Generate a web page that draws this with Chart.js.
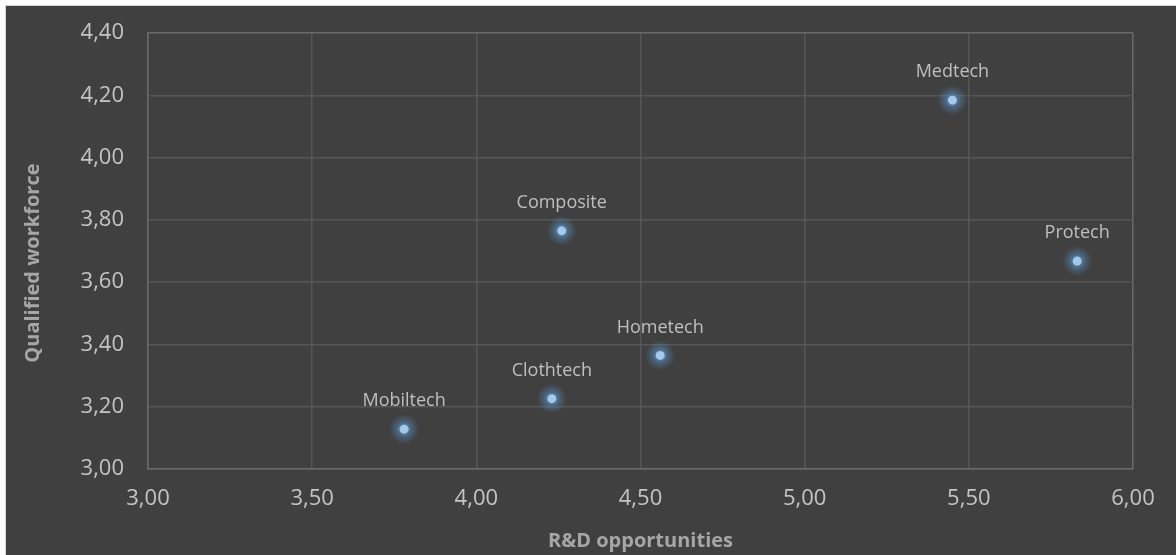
<!DOCTYPE html>
<html>
<head>
<meta charset="utf-8">
<script src="https://cdn.jsdelivr.net/npm/chart.js@4"></script>
<style>
  body { margin: 0; background: #ffffff; }
  #quadro {
    position: absolute; left: 5px; top: 5px;
    width: 1171px; height: 550px;
    background: #404040;
    border-left: 1px solid #d4d4d4; border-top: 1px solid #d4d4d4;
    overflow: hidden;
  }
  #grafico { display: block; margin-top: -10px; }
</style>
</head>
<body>
<div id="quadro"><canvas id="grafico" width="1170" height="559"></canvas></div>
<script>
// setores e notas (P&D x mão de obra qualificada)
const setores = ['Medtech', 'Composite', 'Protech', 'Hometech', 'Clothtech', 'Mobiltech'];
const notasPD = [5.45, 4.26, 5.83, 4.56, 4.23, 3.78];
const notasMaoDeObra = [4.185, 3.765, 3.668, 3.365, 3.226, 3.128];

const tituloX = 'R&D opportunities';
const tituloY = 'Qualified workforce';

let pontos = [];
for (let i = 0; i < setores.length; i++) {
    pontos[i] = { x: notasPD[i], y: notasMaoDeObra[i] };
}

function formataVirgula(v) {
    return Number(v).toFixed(2).replace('.', ',');
}

// brilho azul em volta dos pontos (gradiente radial por baixo de cada um)
const brilho = {
    id: 'brilho',
    beforeDatasetsDraw(chart) {
        const ctx = chart.ctx;
        const meta = chart.getDatasetMeta(0);
        ctx.save();
        meta.data.forEach(p => {
            const g = ctx.createRadialGradient(p.x, p.y, 2, p.x, p.y, 15);
            g.addColorStop(0, 'rgba(91,155,213,0.85)');
            g.addColorStop(0.45, 'rgba(91,155,213,0.35)');
            g.addColorStop(1, 'rgba(91,155,213,0)');
            ctx.fillStyle = g;
            ctx.beginPath();
            ctx.arc(p.x, p.y, 15, 0, Math.PI * 2);
            ctx.fill();
        });
        ctx.restore();
    }
};

// nome do setor acima de cada ponto
const rotulos = {
    id: 'rotulos',
    afterDatasetsDraw(chart) {
        const ctx = chart.ctx;
        const meta = chart.getDatasetMeta(0);
        ctx.save();
        ctx.font = '18px "Open Sans"';
        ctx.fillStyle = '#bfbfbf';
        ctx.textAlign = 'center';
        ctx.textBaseline = 'middle';
        meta.data.forEach((p, i) => {
            ctx.fillText(setores[i], p.x, p.y - 28);
        });
        ctx.restore();
    }
};

// título do eixo Y desenhado à mão, um pouco abaixo do centro da área
const tituloEixoY = {
    id: 'tituloEixoY',
    afterDraw(chart) {
        const ctx = chart.ctx;
        const area = chart.chartArea;
        ctx.save();
        ctx.translate(27, (area.top + area.bottom) / 2 + 12);
        ctx.rotate(-Math.PI / 2);
        ctx.font = 'bold 20px "Open Sans"';
        ctx.fillStyle = '#a6a6a6';
        ctx.textAlign = 'center';
        ctx.textBaseline = 'middle';
        ctx.fillText(tituloY, 0, 0);
        ctx.restore();
    }
};

function corGrade(ctx, total) {
    return ctx.index === total ? '#6b6b6b' : '#565656';
}

const canvas = document.getElementById('grafico');
const grafico = new Chart(canvas, {
    type: 'scatter',
    data: {
        datasets: [{
            data: pontos,
            backgroundColor: '#a4c8e8',
            borderWidth: 0,
            pointRadius: 4.5,
            pointHoverRadius: 4.5
        }]
    },
    options: {
        responsive: false,
        animation: false,
        layout: { padding: { top: 17, right: 43, left: 0, bottom: 0 } },
        plugins: {
            legend: { display: false },
            tooltip: { enabled: false }
        },
        scales: {
            x: {
                type: 'linear',
                min: 3, max: 6,
                afterFit: s => { s.height = 86; },
                ticks: {
                    stepSize: 0.5,
                    padding: 17,
                    color: '#c4c4c4',
                    font: { family: 'Open Sans', size: 22 },
                    callback: formataVirgula
                },
                grid: { color: c => corGrade(c, 6), drawTicks: false, lineWidth: 1.5 },
                border: { color: '#6b6b6b', width: 1.5 },
                title: {
                    display: true,
                    text: tituloX,
                    color: '#a6a6a6',
                    font: { family: 'Open Sans', size: 20, weight: 'bold' },
                    padding: { top: 0, bottom: 2 }
                }
            },
            y: {
                type: 'linear',
                min: 3, max: 4.4,
                afterFit: s => { s.width = 142; },
                ticks: {
                    stepSize: 0.2,
                    padding: 24,
                    color: '#c4c4c4',
                    font: { family: 'Open Sans', size: 22 },
                    callback: formataVirgula
                },
                grid: { color: c => corGrade(c, 7), drawTicks: false, lineWidth: 1.5 },
                border: { color: '#6b6b6b', width: 1.5 }
            }
        }
    },
    plugins: [brilho, rotulos, tituloEixoY]
});
</script>
</body>
</html>
